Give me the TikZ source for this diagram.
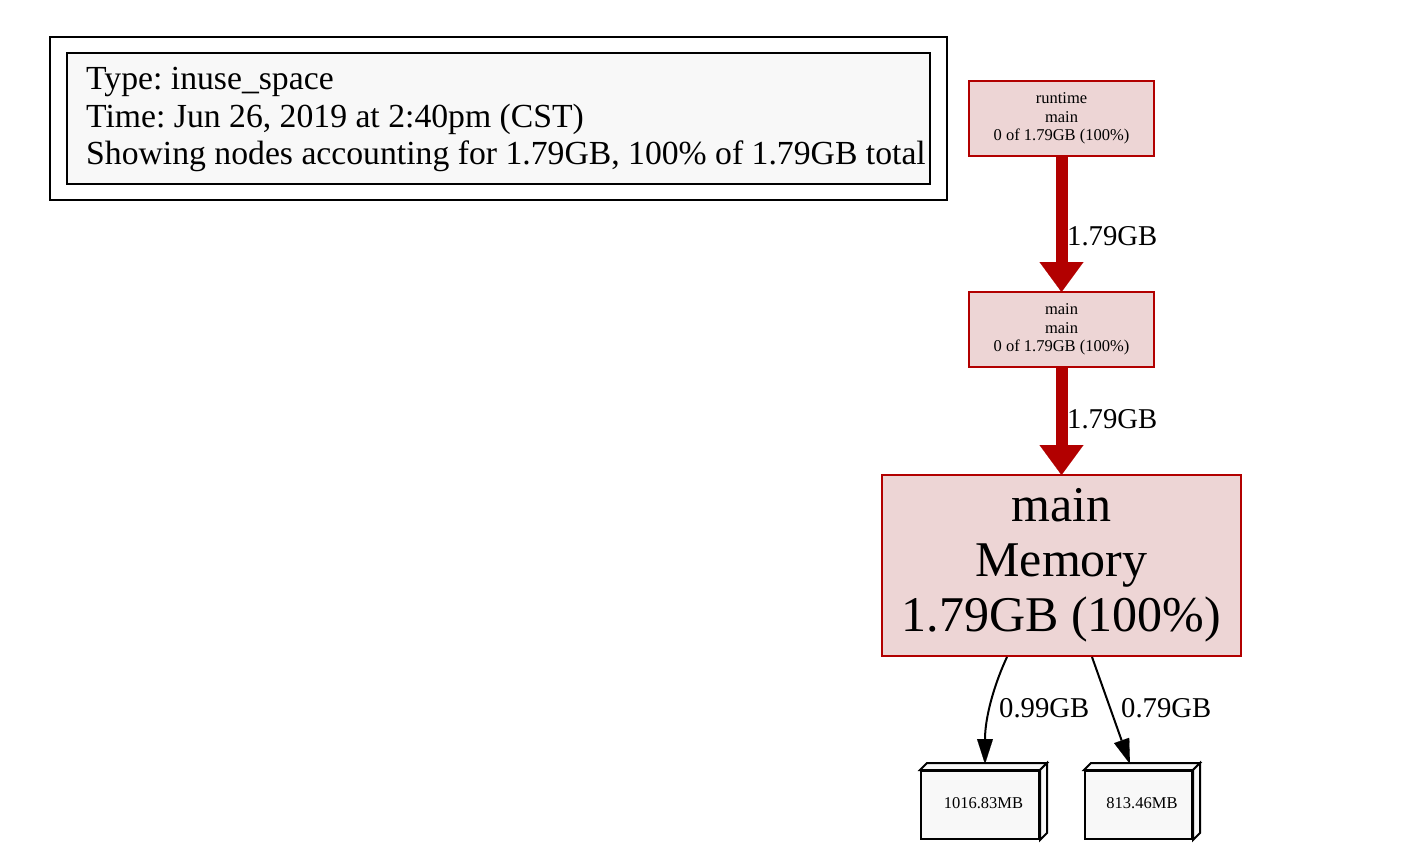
\documentclass[tikz,border=0pt]{standalone}
\usepackage{fontspec}
\setmainfont{Liberation Serif}
\usetikzlibrary{arrows.meta,fit,calc}
\definecolor{nodefill}{HTML}{EDD5D5}
\definecolor{nodeline}{HTML}{B20000}
\definecolor{legfill}{HTML}{F8F8F8}
\frenchspacing
\begin{document}
\begin{tikzpicture}[x=1pt,y=-1pt,
  fn/.style={draw=nodeline, fill=nodefill, line width=2pt, align=center, inner sep=0pt},
  smallfont/.style={font=\fontsize{16.5}{18.5}\selectfont},
  edgelbl/.style={font=\fontsize{28.7}{32}\selectfont, inner sep=0pt, anchor=west},
  hot/.style={draw=nodeline, line width=12pt, -{Triangle[length=30pt,width=44pt,line width=0.1pt]}},
  cold/.style={draw=black, line width=2pt, -{Triangle[length=25pt,width=16pt,line width=0.1pt]}},
  boxfront/.style={draw=black, fill=legfill, line width=2pt, inner sep=0pt, minimum height=68pt, smallfont},
  boxside/.style={draw=black, fill=legfill, line width=2pt, line join=miter}
]
\useasboundingbox (0,0) rectangle (1408,851);

% legend
\node[draw=black, fill=legfill, line width=2pt, minimum width=863pt, minimum height=131pt, inner sep=0pt] (legend) at (498.5,118.5) {};
\node[draw=black, line width=2pt, fit=(legend), inner xsep=16pt, inner ysep=15pt] (legendframe) {};
\node[anchor=west, align=left, inner sep=0pt, font=\fontsize{33.7}{37.5}\selectfont] (legendtext) at (86,119.5)
  {Type: inuse\_space\\Time: Jun 26, 2019 at 2:40pm (CST)\\Showing nodes accounting for 1.79GB, 100\% of 1.79GB total};

% function nodes
\node[fn, smallfont, minimum width=185pt, minimum height=75pt] (runtime) at (1061.5,118.5)
  {runtime\\main\\0 of 1.79GB (100\%)};
\node[fn, smallfont, minimum width=185pt, minimum height=75pt] (mainmain) at (1061.5,329.5)
  {main\\main\\0 of 1.79GB (100\%)};
\node[fn, minimum width=359pt, minimum height=181pt, font=\fontsize{50}{55}\selectfont] (memory) at (1061.5,565.5)
  {main\\Memory\\1.79GB (100\%)};

% box3d nodes
\node[boxfront, minimum width=118pt] (b1) at (980,805) {\raisebox{4pt}{\hspace*{7pt}1016.83MB}};
\node[boxfront, minimum width=107pt] (b2) at (1138.5,805) {\raisebox{4pt}{\hspace*{7pt}813.46MB}};
\foreach \b in {b1,b2}{
  \path[boxside] (\b.north west) -- ++(7,-7) -- ($(\b.north east)+(7,-7)$) -- (\b.north east) -- cycle;
  \path[boxside] (\b.north east) -- ($(\b.north east)+(7,-7)$) -- ($(\b.south east)+(7,-7)$) -- (\b.south east) -- cycle;
}

% edges
\draw[hot] (runtime.south) -- ($(mainmain.north)+(0,1)$);
\node[edgelbl] (l1) at (1067,236) {1.79GB};
\draw[hot] (mainmain.south) -- ($(memory.north)+(0,1)$);
\node[edgelbl] (l2) at (1067,419) {1.79GB};

\draw[cold] ($(memory.south west)+(126,0)$) .. controls +(-14,30) and +(0,-45) .. ($(b1.north)+(5,-6)$);
\node[edgelbl] (l3) at (999,708) {0.99GB};
\draw[cold] ($(memory.south west)+(211,0)$) -- ($(b2.north)+(-8.5,-6)$);
\node[edgelbl] (l4) at (1121,708) {0.79GB};
\end{tikzpicture}
\end{document}
